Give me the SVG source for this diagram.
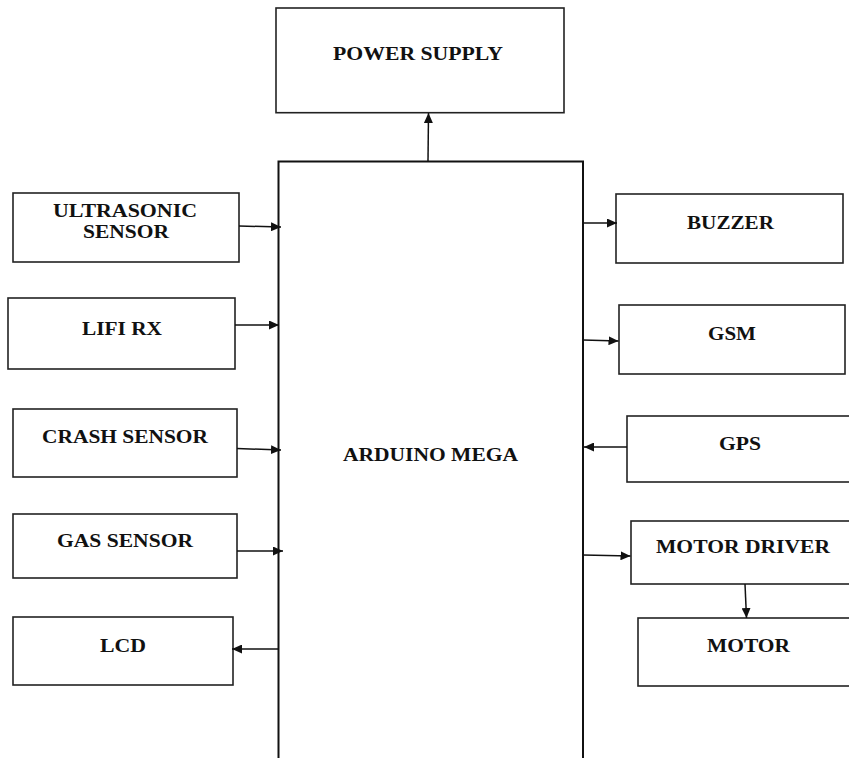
<svg xmlns="http://www.w3.org/2000/svg" width="849" height="758" viewBox="0 0 849 758">
<style>
.box{fill:#fff;stroke:#222;stroke-width:1.6}
.main{fill:#fff;stroke:#111;stroke-width:2}
.lbl{font-family:"Liberation Serif","Times New Roman",serif;font-weight:bold;font-size:18px;fill:#111;text-anchor:middle}
.con{fill:none;stroke:#111;stroke-width:1.5;marker-end:url(#arr)}
</style>
<defs>
<marker id="arr" markerUnits="userSpaceOnUse" markerWidth="11" markerHeight="9" refX="10" refY="4.5" orient="auto">
<path d="M0,0 L10,4.5 L0,9 z" fill="#111"/>
</marker>
</defs>
<rect width="849" height="758" fill="#fff"/>
<g id="power-supply"><rect class="box" x="276" y="8" width="288" height="104.7"/><text class="lbl" x="418" y="60" textLength="170" lengthAdjust="spacingAndGlyphs">POWER SUPPLY</text></g>
<g id="arduino-mega"><rect class="main" x="278.5" y="161.5" width="304.5" height="620"/><text class="lbl" x="430.5" y="461" textLength="175" lengthAdjust="spacingAndGlyphs">ARDUINO MEGA</text></g>
<g id="ultrasonic-sensor"><rect class="box" x="13" y="193" width="226" height="69"/><text class="lbl" x="125" y="217" textLength="144" lengthAdjust="spacingAndGlyphs">ULTRASONIC</text><text class="lbl" x="126" y="238" textLength="86" lengthAdjust="spacingAndGlyphs">SENSOR</text></g>
<g id="lifi-rx"><rect class="box" x="8" y="298" width="227" height="71"/><text class="lbl" x="122" y="335" textLength="80" lengthAdjust="spacingAndGlyphs">LIFI RX</text></g>
<g id="crash-sensor"><rect class="box" x="13" y="409" width="224" height="68"/><text class="lbl" x="125" y="443" textLength="166" lengthAdjust="spacingAndGlyphs">CRASH SENSOR</text></g>
<g id="gas-sensor"><rect class="box" x="13" y="514" width="224" height="64"/><text class="lbl" x="125" y="547" textLength="136" lengthAdjust="spacingAndGlyphs">GAS SENSOR</text></g>
<g id="lcd"><rect class="box" x="13" y="617" width="220" height="68"/><text class="lbl" x="123" y="652" textLength="46" lengthAdjust="spacingAndGlyphs">LCD</text></g>
<g id="buzzer"><rect class="box" x="616" y="194" width="227" height="69"/><text class="lbl" x="730.5" y="229" textLength="87" lengthAdjust="spacingAndGlyphs">BUZZER</text></g>
<g id="gsm"><rect class="box" x="619" y="305" width="226" height="69"/><text class="lbl" x="732" y="340" textLength="48" lengthAdjust="spacingAndGlyphs">GSM</text></g>
<g id="gps"><rect class="box" x="627" y="416" width="230" height="66"/><text class="lbl" x="740" y="450" textLength="42" lengthAdjust="spacingAndGlyphs">GPS</text></g>
<g id="motor-driver"><rect class="box" x="631" y="521" width="226" height="63"/><text class="lbl" x="743" y="553" textLength="174" lengthAdjust="spacingAndGlyphs">MOTOR DRIVER</text></g>
<g id="motor"><rect class="box" x="638" y="618" width="219" height="68"/><text class="lbl" x="748.5" y="652" textLength="83" lengthAdjust="spacingAndGlyphs">MOTOR</text></g>
<g id="connectors">
<line class="con" x1="428" y1="161" x2="428.5" y2="113"/>
<line class="con" x1="239" y1="226" x2="281" y2="227"/>
<line class="con" x1="235" y1="325" x2="279" y2="325"/>
<line class="con" x1="237" y1="448.5" x2="281" y2="450"/>
<line class="con" x1="237" y1="551" x2="283" y2="551"/>
<line class="con" x1="279" y1="649" x2="232" y2="649"/>
<line class="con" x1="583" y1="223" x2="617" y2="223"/>
<line class="con" x1="583" y1="340" x2="618.5" y2="341"/>
<line class="con" x1="627" y1="447" x2="584" y2="447"/>
<line class="con" x1="583" y1="555" x2="630.5" y2="556"/>
<line class="con" x1="745" y1="584" x2="746.5" y2="618"/>
</g>
</svg>
